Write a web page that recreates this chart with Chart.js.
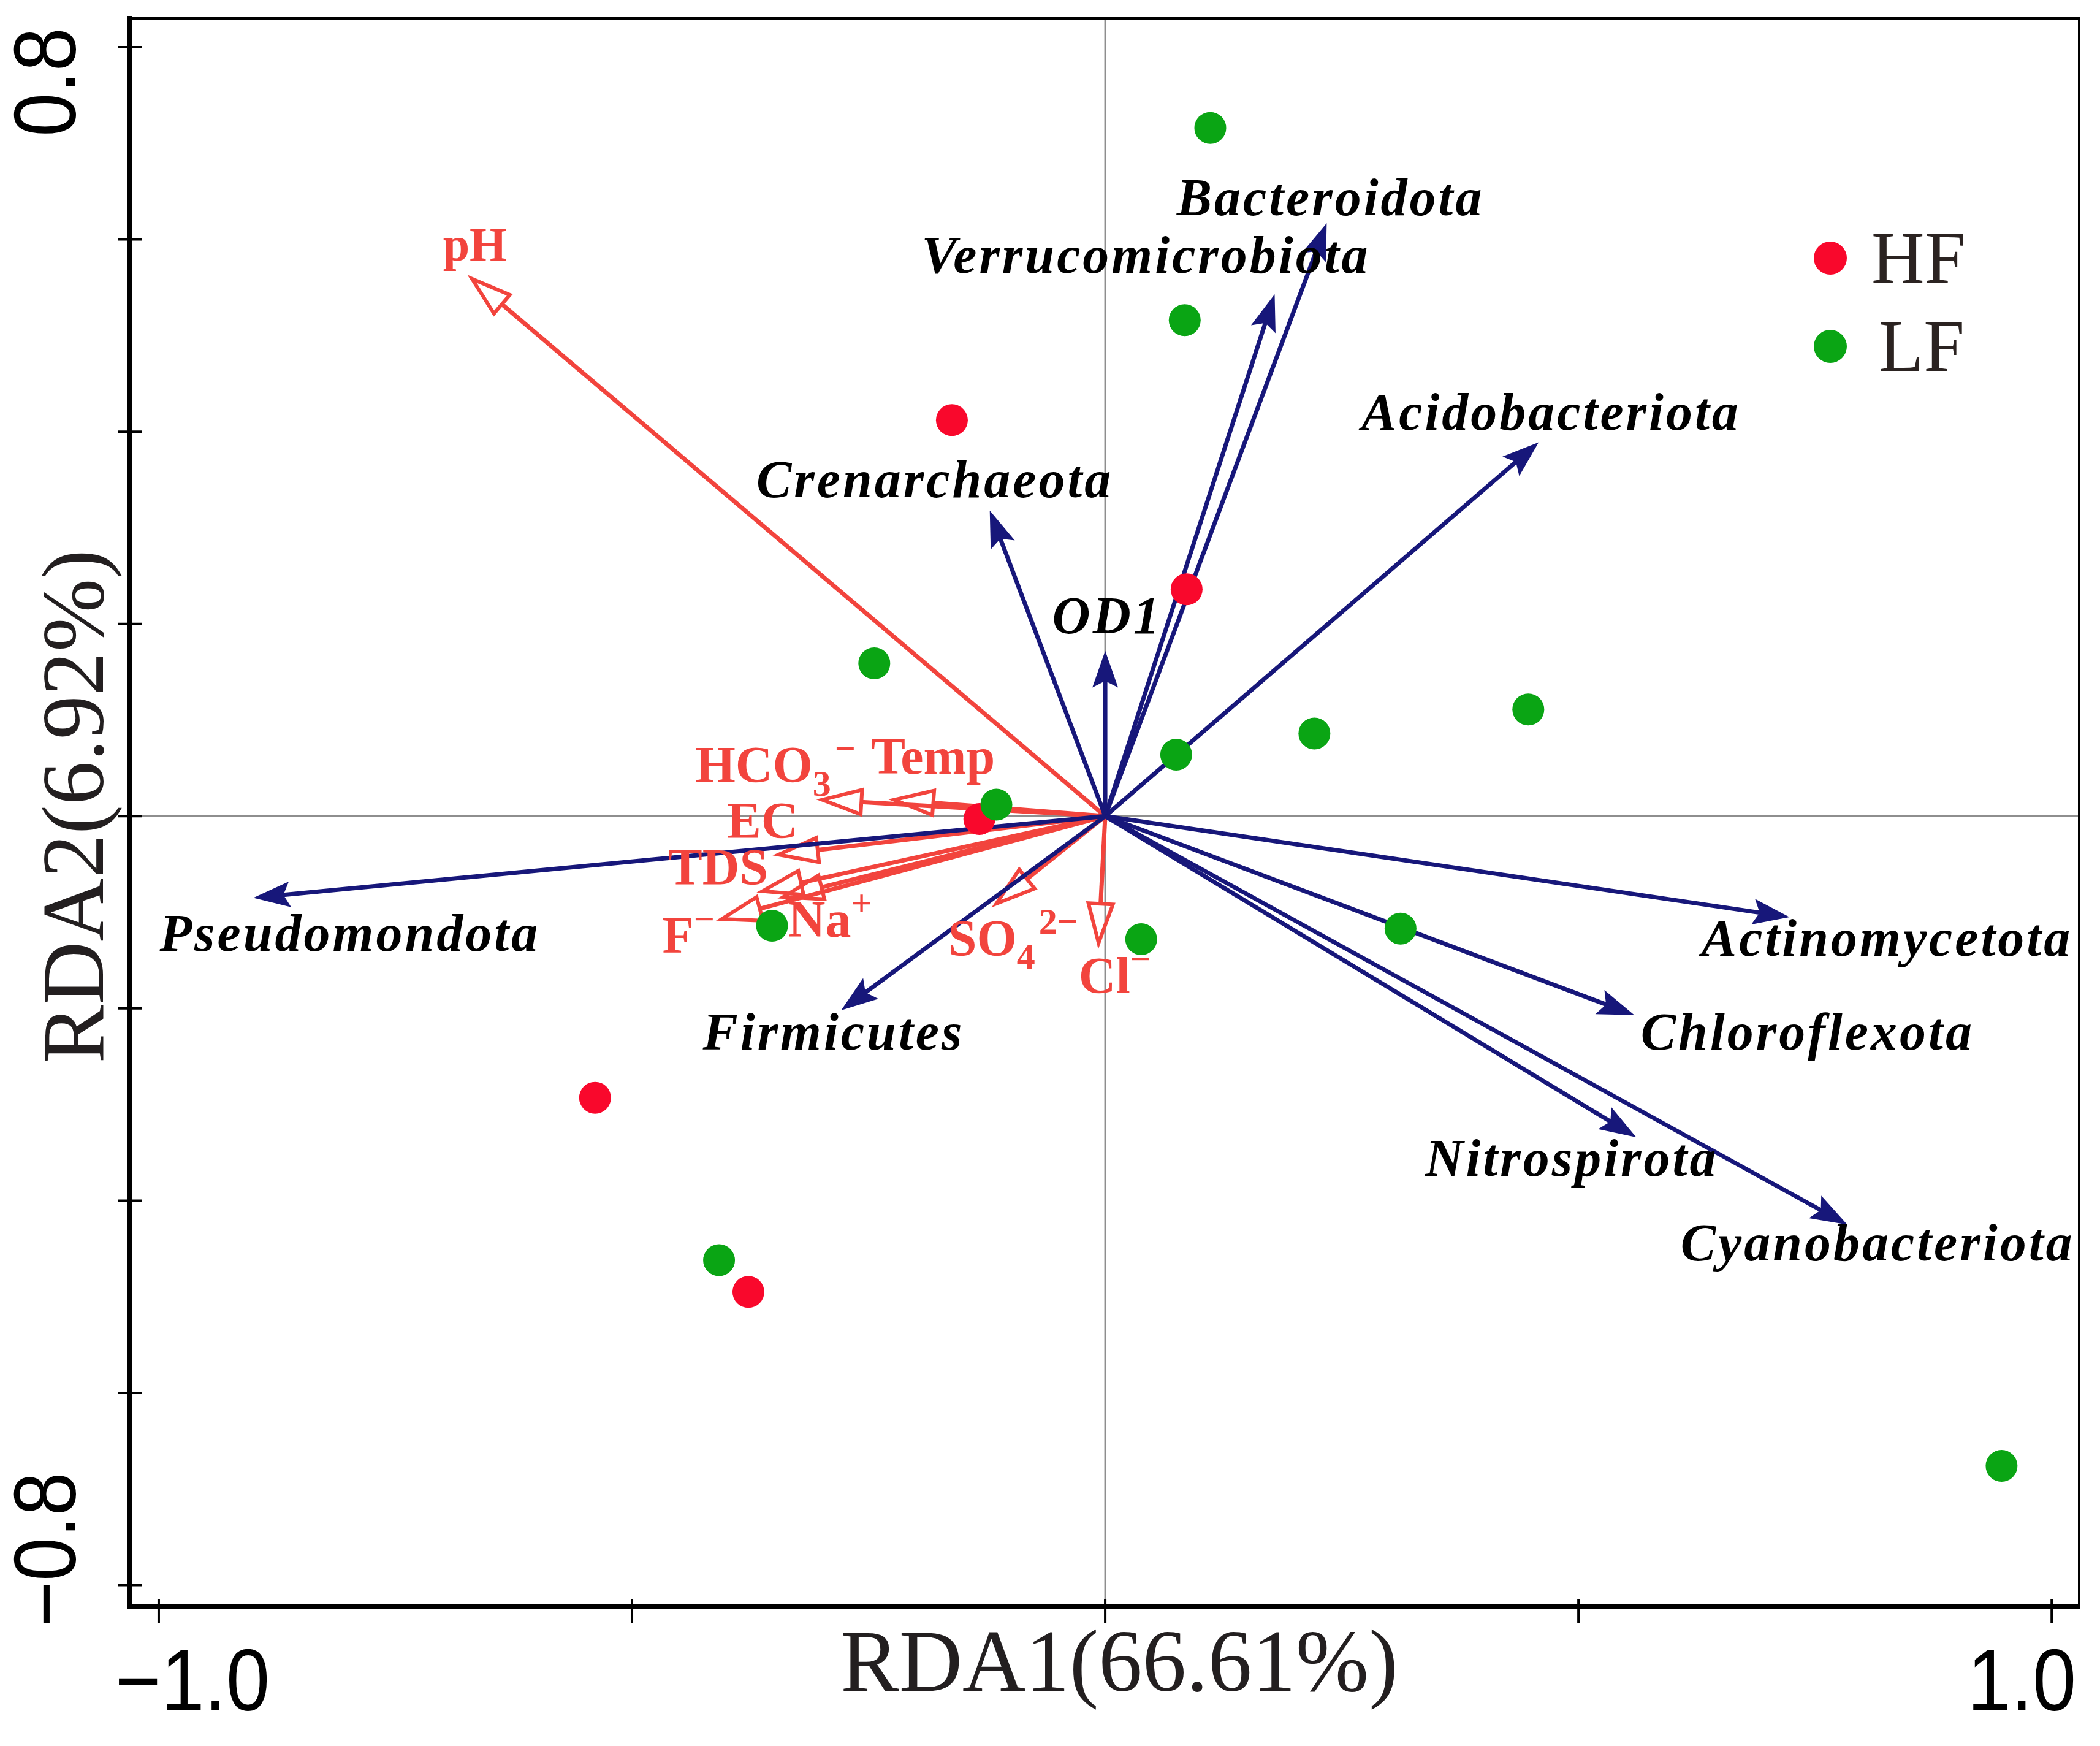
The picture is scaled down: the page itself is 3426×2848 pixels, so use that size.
<!DOCTYPE html>
<html>
<head>
<meta charset="utf-8">
<script src="https://cdn.jsdelivr.net/npm/chart.js@4.4.1/dist/chart.umd.min.js"></script>
<style>
  html, body { margin: 0; padding: 0; background: #fff; }
  canvas { display: block; }
</style>
</head>
<body>
<canvas id="chart" width="3426" height="2848"></canvas>
<script>
// sample scores
const LF_RDA1 = [0.111, 0.084, -0.244, 0.075, 0.221, 0.447, -0.115, -0.352, 0.038, 0.312, -0.408, 0.947];
const LF_RDA2 = [0.716, 0.516, 0.159, 0.064, 0.086, 0.111, 0.012, -0.114, -0.128, -0.117, -0.462, -0.676];
const HF_RDA1 = [-0.162, 0.086, -0.133, -0.539, -0.377];
const HF_RDA2 = [0.412, 0.236, -0.003, -0.293, -0.495];

// species (phyla) arrows
const TAXA = ["Bacteroidota", "Verrucomicrobiota", "Acidobacteriota", "Crenarchaeota", "OD1",
  "Pseudomondota", "Firmicutes", "Actinomycetota", "Chloroflexota", "Nitrospirota", "Cyanobacteriota"];
const TAXA_RDA1 = [0.234, 0.179, 0.458, -0.122, 0.0, -0.900, -0.279, 0.723, 0.559, 0.561, 0.784];
const TAXA_RDA2 = [0.617, 0.543, 0.389, 0.318, 0.172, -0.085, -0.202, -0.105, -0.207, -0.334, -0.425];

// environmental arrows (_ = subscript char, ^ = superscript rest)
const ENV = ["pH", "HCO_3^−", "Temp", "EC", "TDS", "Na^+", "F^−", "SO_4^2−", "Cl^−"];
const ENV_RDA1 = [-0.669, -0.299, -0.223, -0.345, -0.362, -0.340, -0.405, -0.115, -0.007];
const ENV_RDA2 = [0.559, 0.017, 0.017, -0.040, -0.078, -0.084, -0.107, -0.091, -0.132];

const X_TICKS = [-1, -0.5, 0, 0.5, 1];
const X_TICK_LABELS = ["−1.0", "", "", "", "1.0"];
const Y_TICKS = [0.8, 0.6, 0.4, 0.2, 0, -0.2, -0.4, -0.6, -0.8];
const Y_TICK_LABELS = ["0.8", "", "", "", "", "", "", "", "−0.8"];

// label anchors in axis units: [x, baseline y, align]
const TAXA_LABEL_POS = [
  [0.238, 0.625, "center"], [0.043, 0.565, "center"], [0.471, 0.402, "center"],
  [-0.180, 0.332, "center"], [0.002, 0.190, "center"], [-0.798, -0.140, "center"],
  [-0.287, -0.243, "center"], [0.826, -0.145, "center"], [0.742, -0.243, "center"],
  [0.493, -0.374, "center"], [0.816, -0.462, "center"]
];
const ENV_LABEL_POS = [
  [-0.666, 0.578, "center"], [-0.433, 0.035, "left"], [-0.182, 0.044, "center"],
  [-0.362, -0.023, "center"], [-0.409, -0.071, "center"], [-0.335, -0.1255, "left"],
  [-0.468, -0.142, "left"], [-0.166, -0.145, "left"], [-0.028, -0.184, "left"]
];

const RED = "#f2443d";
const NAVY = "#17177a";
const HF_COLOR = "#f9082c";
const LF_COLOR = "#0aa514";
const SERIF = "'Liberation Serif', 'Times New Roman', serif";
const SANS = "'Liberation Sans', Arial, sans-serif";


function parseRich(str) {
  const parts = [];
  let buf = "";
  for (let i = 0; i < str.length; i++) {
    const c = str[i];
    if (c === "_") {
      if (buf) parts.push([buf, "n"]);
      buf = "";
      parts.push([str[i + 1], "sub"]);
      i++;
    } else if (c === "^") {
      if (buf) parts.push([buf, "n"]);
      buf = "";
      parts.push([str.slice(i + 1), "sup"]);
      break;
    } else {
      buf += c;
    }
  }
  if (buf) parts.push([buf, "n"]);
  return parts;
}

function drawRich(ctx, str, x, y, align, size) {
  const parts = parseRich(str);
  const small = Math.round(size * 0.72);
  const widths = parts.map(([t, m]) => {
    ctx.font = `bold ${m === "n" ? size : small}px ${SERIF}`;
    return ctx.measureText(t).width;
  });
  const total = widths.reduce((a, b) => a + b, 0);
  let cx = align === "center" ? x - total / 2 : x;
  ctx.textAlign = "left";
  ctx.textBaseline = "alphabetic";
  parts.forEach(([t, m], i) => {
    ctx.font = `bold ${m === "n" ? size : small}px ${SERIF}`;
    const dy = m === "sub" ? size * 0.26 : m === "sup" ? -size * 0.42 : 0;
    ctx.fillText(t, cx, y + dy);
    cx += widths[i] + (m === "sub" ? 6 : 0);
  });
}

function drawArrow(ctx, x0, y0, x1, y1, opts) {
  const ang = Math.atan2(y1 - y0, x1 - x0);
  const len = opts.headLen, hw = opts.headHalf;
  const bx = x1 - Math.cos(ang) * len;
  const by = y1 - Math.sin(ang) * len;
  const px = -Math.sin(ang), py = Math.cos(ang);

  ctx.beginPath();
  ctx.moveTo(x0, y0);
  if (opts.open) {
    ctx.lineTo(bx, by);
  } else {
    ctx.lineTo(x1 - Math.cos(ang) * len * 0.6, y1 - Math.sin(ang) * len * 0.6);
  }
  ctx.strokeStyle = opts.color;
  ctx.lineWidth = opts.width;
  ctx.stroke();

  ctx.beginPath();
  ctx.moveTo(x1, y1);
  ctx.lineTo(bx + px * hw, by + py * hw);
  if (!opts.open) {
    ctx.lineTo(x1 - Math.cos(ang) * len * 0.82, y1 - Math.sin(ang) * len * 0.82);
  }
  ctx.lineTo(bx - px * hw, by - py * hw);
  ctx.closePath();
  if (opts.open) {
    ctx.lineJoin = "miter";
    ctx.lineWidth = opts.width - 1;
    ctx.stroke();
  } else {
    ctx.fillStyle = opts.color;
    ctx.fill();
  }
}

const rdaPlugin = {
  id: "rda",
  beforeDatasetsDraw(chart) {
    const { ctx, chartArea: a, scales: { x, y } } = chart;
    const ox = x.getPixelForValue(0), oy = y.getPixelForValue(0);
    ctx.save();

    // zero lines
    ctx.strokeStyle = "#8e8e8e";
    ctx.lineWidth = 3;
    ctx.beginPath();
    ctx.moveTo(a.left, oy); ctx.lineTo(a.right, oy);
    ctx.moveTo(ox, a.top); ctx.lineTo(ox, a.bottom);
    ctx.stroke();

    // environmental arrows
    ENV.forEach((name, i) => {
      drawArrow(ctx, ox, oy, x.getPixelForValue(ENV_RDA1[i]), y.getPixelForValue(ENV_RDA2[i]),
        { color: RED, width: 7, headLen: 64, headHalf: 20, open: true });
    });

    // taxa arrows
    TAXA.forEach((name, i) => {
      drawArrow(ctx, ox, oy, x.getPixelForValue(TAXA_RDA1[i]), y.getPixelForValue(TAXA_RDA2[i]),
        { color: NAVY, width: 7, headLen: 60, headHalf: 21, open: false });
    });

    // env labels
    ctx.fillStyle = RED;
    ENV.forEach((name, i) => {
      const [lx, ly, al] = ENV_LABEL_POS[i];
      drawRich(ctx, name, x.getPixelForValue(lx), y.getPixelForValue(ly), al, i === 0 ? 78 : 84);
    });

    // taxa labels
    ctx.fillStyle = "#000";
    ctx.font = `italic bold 86px ${SERIF}`;
    ctx.textBaseline = "alphabetic";
    if ("letterSpacing" in ctx) ctx.letterSpacing = "4px";
    TAXA.forEach((name, i) => {
      const [lx, ly, al] = TAXA_LABEL_POS[i];
      ctx.textAlign = al;
      ctx.fillText(name, x.getPixelForValue(lx), y.getPixelForValue(ly));
    });
    if ("letterSpacing" in ctx) ctx.letterSpacing = "0px";
    ctx.restore();
  },
  afterDraw(chart) {
    const { ctx, chartArea: a, scales: { x, y } } = chart;
    ctx.save();

    // thin top / right frame
    ctx.strokeStyle = "#000";
    ctx.lineWidth = 4;
    ctx.beginPath();
    ctx.moveTo(a.left, a.top); ctx.lineTo(a.right, a.top); ctx.lineTo(a.right, a.bottom);
    ctx.stroke();

    // tick marks
    ctx.lineWidth = 4;
    ctx.beginPath();
    X_TICKS.forEach(v => {
      const px = x.getPixelForValue(v);
      ctx.moveTo(px, a.bottom - 12); ctx.lineTo(px, a.bottom + 28);
    });
    Y_TICKS.forEach(v => {
      const py = y.getPixelForValue(v);
      ctx.moveTo(a.left - 20, py); ctx.lineTo(a.left + 20, py);
    });
    ctx.stroke();

    // tick labels (condensed)
    ctx.fillStyle = "#000";
    ctx.font = `142px ${SANS}`;
    ctx.textAlign = "center";
    ctx.textBaseline = "middle";
    X_TICKS.forEach((v, i) => {
      const lab = X_TICK_LABELS[i];
      if (!lab) return;
      const px = x.getPixelForValue(v) + (v < 0 ? 55 : -49);
      ctx.save();
      ctx.translate(px, a.bottom + 131);
      ctx.scale(0.9, 1);
      ctx.fillText(lab, 0, 0);
      ctx.restore();
    });
    Y_TICKS.forEach((v, i) => {
      const lab = Y_TICK_LABELS[i];
      if (!lab) return;
      const py = y.getPixelForValue(v) + (v > 0 ? 57 : -58);
      ctx.save();
      ctx.translate(a.left - 128, py);
      ctx.rotate(-Math.PI / 2);
      ctx.scale(0.9, 1);
      ctx.fillText(lab, 0, 0);
      ctx.restore();
    });

    // axis titles
    ctx.fillStyle = "#231f20";
    ctx.font = `143px ${SERIF}`;
    ctx.textAlign = "center";
    ctx.textBaseline = "alphabetic";
    ctx.fillText("RDA1(66.61%)", x.getPixelForValue(0) + 23, a.bottom + 138);
    ctx.save();
    ctx.translate(a.left - 82, y.getPixelForValue(0) - 16);
    ctx.rotate(-Math.PI / 2);
    ctx.textBaseline = "middle";
    ctx.fillText("RDA2(6.92%)", 0, 0);
    ctx.restore();

    // legend
    const items = [["HF", HF_COLOR], ["LF", LF_COLOR]];
    ctx.font = `120px ${SERIF}`;
    ctx.textAlign = "left";
    ctx.textBaseline = "alphabetic";
    items.forEach(([lab, col], i) => {
      const cy = 421 + i * 144;
      ctx.fillStyle = col;
      ctx.beginPath();
      ctx.arc(2986, cy, 27, 0, Math.PI * 2);
      ctx.fill();
      ctx.fillStyle = "#2b2321";
      ctx.fillText(lab, i === 0 ? 3053 : 3065, cy + 40);
    });
    ctx.restore();
  }
};

function toPoints(xs, ys) {
  return xs.map((v, i) => ({ x: v, y: ys[i] }));
}

new Chart(document.getElementById("chart"), {
  type: "scatter",
  data: {
    datasets: [
      {
        label: "LF",
        data: toPoints(LF_RDA1, LF_RDA2),
        backgroundColor: LF_COLOR,
        borderWidth: 0,
        pointRadius: 26,
        pointHoverRadius: 26
      },
      {
        label: "HF",
        data: toPoints(HF_RDA1, HF_RDA2),
        backgroundColor: HF_COLOR,
        borderWidth: 0,
        pointRadius: 26,
        pointHoverRadius: 26
      }
    ]
  },
  options: {
    responsive: false,
    devicePixelRatio: 1,
    animation: false,
    events: [],
    layout: { padding: { top: 30, right: 34, left: 0, bottom: 0 } },
    plugins: {
      legend: { display: false },
      tooltip: { enabled: false }
    },
    scales: {
      x: {
        type: "linear",
        min: -1.0304,
        max: 1.029,
        ticks: { display: false, stepSize: 0.5, includeBounds: false },
        grid: { display: false },
        border: { display: true, width: 8, color: "#000" },
        afterFit: s => { s.height = 228; }
      },
      y: {
        type: "linear",
        min: -0.822,
        max: 0.830,
        ticks: { display: false, stepSize: 0.2, includeBounds: false },
        grid: { display: false },
        border: { display: true, width: 8, color: "#000" },
        afterFit: s => { s.width = 212; }
      }
    }
  },
  plugins: [rdaPlugin]
});
</script>
</body>
</html>
